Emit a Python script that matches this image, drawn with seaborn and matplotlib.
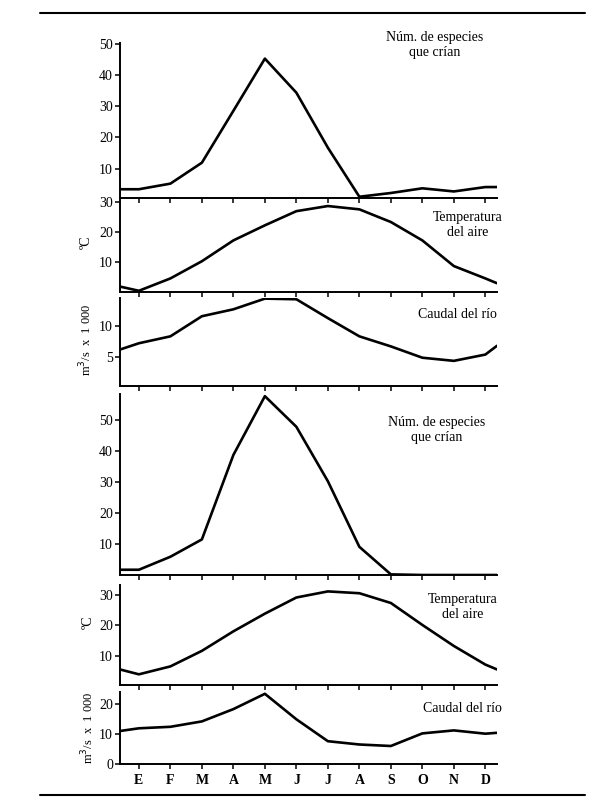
import numpy as np
import pandas as pd
import matplotlib
matplotlib.use("Agg")
import matplotlib.pyplot as plt
import seaborn as sns
from matplotlib.lines import Line2D

# ---------------- data ----------------
months = ["E", "F", "M", "A", "M", "J", "J", "A", "S", "O", "N", "D"]
# month index positions, plus the stretch of line to each axis edge
x_steps = [-0.6, 0, 1, 2, 3, 4, 5, 6, 7, 8, 9, 10, 11, 11.37]

species_1 = [3.4, 3.4, 5.2, 11.9, 28.5, 45.2, 34.3, 16.7, 1.0, 2.2, 3.7, 2.7, 4.1, 4.1]
temp_1 = [1.8, 0.4, 4.5, 10.2, 17.1, 22.1, 26.8, 28.5, 27.4, 23.2, 17.1, 8.6, 4.5, 2.9]
flow_1 = [6.2, 7.2, 8.3, 11.5, 12.6, 14.3, 14.2, 11.2, 8.3, 6.7, 4.9, 4.4, 5.4, 6.8]
species_2 = [1.7, 1.7, 5.9, 11.5, 38.8, 57.8, 47.9, 30.3, 9.1, 0.2, 0.0, 0.0, 0.0, 0.0]
temp_2 = [5.5, 3.9, 6.5, 11.6, 18.0, 23.8, 29.1, 31.1, 30.5, 27.3, 20.1, 13.2, 7.1, 5.5]
flow_2 = [11.0, 11.9, 12.4, 14.2, 18.3, 23.4, 14.9, 7.6, 6.5, 6.0, 10.2, 11.2, 10.1, 10.4]

species_label = "Núm. de especies\nque crían"
temp_label = "Temperatura\ndel aire"
flow_label = "Caudal del río"
temp_unit = "ºC"
flow_unit = "m$^3$/s  x  1 000"

species_ticks = [10, 20, 30, 40, 50]
temp_ticks = [10, 20, 30]
flow1_ticks = [5, 10]
flow2_ticks = [0, 10, 20]

# ---------------- style ----------------
sns.set_theme(style="ticks")
plt.rcParams["font.family"] = ["Liberation Serif", "DejaVu Serif"]
plt.rcParams["axes.linewidth"] = 1.2

W, H = 600, 810
fig = plt.figure(figsize=(W / 100, H / 100), dpi=100)

def fx(px):
    return px / W

def fy(py):
    return 1 - py / H

left_px, right_px = 120, 497

# panel spec: (top_px, bottom_px, values, ylim, yticks, label, label_xy, unit, unit_xy)
panels = [
    (43, 198, species_1, (0.6, 50.2), species_ticks, species_label, (435, 45), None, None),
    (200, 292, temp_1, (0.0, 30.5), temp_ticks, temp_label, (468, 225), temp_unit, (86, 242)),
    (298, 386, flow_1, (0.4, 14.4), flow1_ticks, flow_label, (457, 314), flow_unit, (86, 340)),
    (394, 575, species_2, (0.0, 58.5), species_ticks, species_label, (437, 430), None, None),
    (585, 685, temp_2, (0.4, 33.2), temp_ticks, temp_label, (463, 607), temp_unit, (88, 622)),
    (692, 764, flow_2, (0.0, 24.0), flow2_ticks, flow_label, (462, 709), flow_unit, (88, 728)),
]

for i, (top, bot, vals, ylim, yticks, label, lxy, unit, uxy) in enumerate(panels):
    ax = fig.add_axes([fx(left_px), fy(bot), fx(right_px) - fx(left_px), (bot - top) / H])
    df = pd.DataFrame({"x": x_steps, "y": vals})
    sns.lineplot(data=df, x="x", y="y", ax=ax, color="black", linewidth=1.9,
                 estimator=None, sort=False)
    ax.set_xlim(-0.6, 11.37)
    ax.set_ylim(*ylim)
    ax.set_yticks(yticks)
    ax.set_xticks(range(len(months)))
    if i == len(panels) - 1:
        ax.set_xticklabels(months, fontsize=10, fontweight="bold")
        ax.tick_params(axis="x", pad=4)
    else:
        ax.set_xticklabels([])
    ax.set_xlabel("")
    ax.set_ylabel("")
    ax.tick_params(axis="both", direction="out", length=3.5, width=1.1,
                   labelsize=10, colors="black")
    ax.tick_params(axis="y", pad=1.5)
    for s in ["top", "right"]:
        ax.spines[s].set_visible(False)
    for s in ["left", "bottom"]:
        ax.spines[s].set_color("black")
        ax.spines[s].set_linewidth(1.4)
    ax.patch.set_alpha(0)
    fig.text(fx(lxy[0]), fy(lxy[1]), label, ha="center", va="center",
             fontsize=10, linespacing=1.25, color="black")
    if unit is not None:
        fig.text(fx(uxy[0]), fy(uxy[1]), unit, ha="center", va="center",
                 rotation=90, fontsize=10 if unit == temp_unit else 9, color="black")

# horizontal rules top and bottom
for yy in (13, 795):
    fig.add_artist(Line2D([fx(40), fx(585)], [fy(yy), fy(yy)], color="black",
                          linewidth=1.5, transform=fig.transFigure))

fig.savefig("out.png", dpi=100, facecolor="white")
